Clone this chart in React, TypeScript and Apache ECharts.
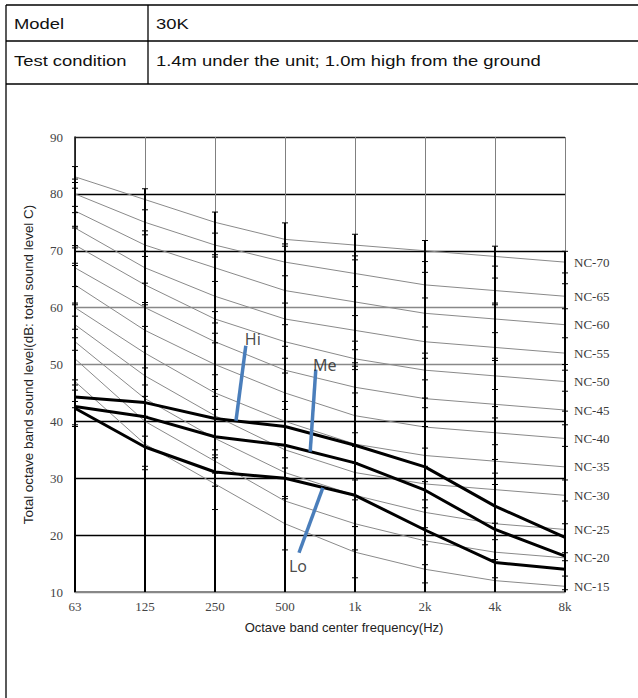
import React, { useEffect, useRef } from 'react';
import * as echarts from 'echarts';

// ---------- data ----------
const frequencies = ['63', '125', '250', '500', '1k', '2k', '4k', '8k'];

const ncNames = ['NC-15', 'NC-20', 'NC-25', 'NC-30', 'NC-35', 'NC-40', 'NC-45', 'NC-50', 'NC-55', 'NC-60', 'NC-65', 'NC-70'];
const nc15 = [47, 36, 29, 22, 17, 14, 12, 11];
const nc20 = [51, 40, 33, 26, 22, 19, 17, 16];
const nc25 = [54, 44, 37, 31, 27, 24, 22, 21];
const nc30 = [57, 48, 41, 35, 31, 29, 28, 27];
const nc35 = [60, 52, 45, 40, 36, 34, 33, 32];
const nc40 = [64, 56, 50, 45, 41, 39, 38, 37];
const nc45 = [67, 60, 54, 49, 46, 44, 43, 42];
const nc50 = [71, 64, 58, 54, 51, 49, 48, 47];
const nc55 = [74, 67, 62, 58, 56, 54, 53, 52];
const nc60 = [77, 71, 67, 63, 61, 59, 58, 57];
const nc65 = [80, 75, 71, 68, 66, 64, 63, 62];
const nc70 = [83, 79, 75, 72, 71, 70, 69, 68];
const ncCurves = [nc15, nc20, nc25, nc30, nc35, nc40, nc45, nc50, nc55, nc60, nc65, nc70];

const hiLevels = [44.3, 43.3, 40.5, 39.1, 35.8, 32.0, 25.1, 19.6];
const meLevels = [42.6, 40.8, 37.3, 35.8, 32.7, 27.9, 21.0, 16.3];
const loLevels = [42.3, 35.5, 31.1, 30.0, 27.0, 20.9, 15.2, 14.0];

// pointer lines (x in band index units, y in dB): [label end, curve end]
const hiPointer = [[2.44, 53.3], [2.3, 40.1]];
const mePointer = [[3.44, 49.1], [3.36, 34.7]];
const loPointer = [[3.2, 16.9], [3.54, 28.3]];
const pointerNames = ['Hi', 'Me', 'Lo'];

// tall black scale bars at each band
const bandTops = [84.8, 80.9, 76.8, 74.9, 72.9, 71.8, 70.8, 69.9];
const ticks63 = [84.8, 82.6, 82.0, 81.0, 77.8, 76.7, 74.3, 74.0, 70.9, 70.5, 67.8, 67.4, 63.7, 60.8, 60.5, 58.5, 56.2, 54.7, 52.5, 47.3, 46.4, 45.5, 43.5, 42.4, 39.4, 39.1];
const ticks125 = [80.9, 77.2, 73.5, 72.8, 69.9, 69.0, 64.3, 60.9, 60.5, 56.7, 53.2, 49.4, 46.4, 44.4, 40.9, 37.4, 32.1, 31.5];
const ticks250 = [76.8, 73.1, 69.3, 68.9, 64.6, 59.3, 57.3, 55.5, 53.8, 48.2, 45.6, 44.4, 42.1, 35.0, 34.1, 33.6, 30.9, 28.6, 24.5];
const ticks500 = [74.9, 71.2, 70.8, 65.6, 60.8, 57.0, 53.2, 51.1, 48.5, 43.5, 42.1, 33.6, 31.8, 26.8, 26.4, 17.4];
const ticks1k = [72.9, 69.1, 68.4, 63.7, 58.6, 54.1, 52.6, 50.3, 49.7, 49.1, 45.0, 42.6, 38.0, 35.6, 32.7, 29.7, 26.2, 21.5, 17.4, 12.5];
const ticks2k = [71.8, 68.1, 66.2, 61.7, 56.6, 52.0, 51.1, 47.3, 44.1, 42.4, 39.1, 35.3, 32.1, 29.4, 26.2, 24.8, 21.3, 18.3, 14.8, 11.6];
const ticks4k = [70.8, 67.3, 65.2, 60.8, 60.5, 55.6, 51.1, 50.7, 45.6, 42.6, 40.6, 35.9, 33.3, 30.9, 28.9, 22.1, 19.2, 15.7, 12.5];
const ticks8k = [69.9, 66.1, 64.2, 59.8, 54.7, 50.0, 49.0, 45.3, 41.8, 39.4, 35.6, 29.7, 26.0, 22.0, 16.9, 15.5, 12.8, 10.4];
const bandTicks = [ticks63, ticks125, ticks250, ticks500, ticks1k, ticks2k, ticks4k, ticks8k];

const tableRows = [
  ['Model', '30K'],
  ['Test condition', '1.4m under the unit; 1.0m high from the ground'],
];

const yAxisName = 'Total octave band sound level(dB: total sound level C)';
const xAxisName = 'Octave band center frequency(Hz)';

const SERIF = '"Liberation Serif", "DejaVu Serif", serif';
const SANS = '"Liberation Sans", Arial, sans-serif';

export default function App() {
  const ref = useRef<HTMLDivElement>(null);

  useEffect(() => {
    if (!ref.current) return;
    const chart = echarts.init(ref.current, null, { renderer: 'svg' });

    const ncSeries = ncCurves.map((vals, k) => ({
      type: 'line',
      name: ncNames[k],
      data: vals.map((v, i) => [i, v]),
      showSymbol: false,
      symbol: 'none',
      lineStyle: { color: '#8a8a8a', width: 1 },
      z: 2,
      silent: true,
      endLabel: {
        show: true,
        formatter: ncNames[k],
        distance: 9,
        color: '#3a3a3a',
        fontFamily: SERIF,
        fontSize: 13,
      },
    }));

    const mainLine = (name: string, vals: number[]) => ({
      type: 'line',
      name,
      data: vals.map((v, i) => [i, v]),
      showSymbol: false,
      symbol: 'none',
      lineStyle: { color: '#000', width: 3 },
      z: 5,
    });

    const pointerLine = (pts: number[][]) => ({
      type: 'line',
      data: pts,
      showSymbol: false,
      symbol: 'none',
      lineStyle: { color: '#4a7ebb', width: 3.5 },
      z: 6,
    });

    const labelOffsets = [[7, -7], [9, -5], [-1, 13]];
    const pointerLabels = {
      type: 'scatter',
      symbolSize: 1,
      itemStyle: { color: 'rgba(0,0,0,0)' },
      z: 7,
      data: [hiPointer[0], mePointer[0], loPointer[0]].map((p, k) => ({
        value: p,
        name: pointerNames[k],
        label: {
          show: true,
          position: 'inside',
          offset: labelOffsets[k],
          formatter: '{b}',
          color: '#1a1a1a',
          fontFamily: '"Noto Sans", "Open Sans", sans-serif',
          fontSize: 16,
        },
      })),
    };

    const bars = {
      type: 'custom',
      z: 4,
      silent: true,
      data: bandTops.map((t, i) => [i, t]),
      renderItem: (params: any, api: any) => {
        const i = api.value(0);
        const top = api.value(1);
        const b = api.coord([i, 10]);
        const t = api.coord([i, top]);
        const children: any[] = [
          { type: 'line', shape: { x1: b[0], y1: b[1], x2: t[0], y2: t[1] }, style: { stroke: '#000', lineWidth: 2 } },
        ];
        bandTicks[params.dataIndex].forEach((v) => {
          const p = api.coord([i, v]);
          children.push({
            type: 'line',
            shape: { x1: p[0] - 3, y1: p[1], x2: p[0] + 3, y2: p[1] },
            style: { stroke: '#000', lineWidth: 1 },
          });
        });
        return { type: 'group', children };
      },
    };

    const lineStyle = { stroke: '#000', lineWidth: 1.3 };
    const graphic: any[] = [
      { type: 'line', shape: { x1: 6, y1: 5, x2: 638, y2: 5 }, style: lineStyle },
      { type: 'line', shape: { x1: 6, y1: 41, x2: 638, y2: 41 }, style: lineStyle },
      { type: 'line', shape: { x1: 6, y1: 84, x2: 638, y2: 84 }, style: lineStyle },
      { type: 'line', shape: { x1: 6, y1: 5, x2: 6, y2: 698 }, style: lineStyle },
      { type: 'line', shape: { x1: 148, y1: 5, x2: 148, y2: 84 }, style: lineStyle },
    ];
    const rowCenters = [24.5, 61.5];
    tableRows.forEach((row, r) => {
      [14, 156].forEach((x, c) => {
        graphic.push({
          type: 'text',
          x,
          y: rowCenters[r],
          scaleX: 1.27,
          style: {
            text: row[c],
            fontFamily: SANS,
            fontSize: 14.5,
            fill: '#111',
            textAlign: 'left',
            textVerticalAlign: 'middle',
          },
        });
      });
    });

    chart.setOption({
      animation: false,
      backgroundColor: '#fff',
      grid: { left: 75, top: 137, width: 490, height: 455, containLabel: false },
      xAxis: {
        type: 'value',
        min: 0,
        max: 7,
        interval: 1,
        name: xAxisName,
        nameLocation: 'middle',
        nameGap: 29,
        nameTextStyle: { fontFamily: SANS, fontSize: 13, color: '#222', padding: [0, 0, 0, 48] },
        axisLine: { show: true, lineStyle: { color: '#888', width: 2 } },
        axisTick: { show: false },
        axisLabel: {
          margin: 8,
          fontFamily: SERIF,
          fontSize: 13,
          color: '#444',
          formatter: (v: number) => frequencies[Math.round(v)] ?? '',
        },
        splitLine: { show: true, lineStyle: { color: '#808080', width: 1 } },
      },
      yAxis: {
        type: 'value',
        min: 10,
        max: 90,
        interval: 10,
        name: yAxisName,
        nameLocation: 'middle',
        nameGap: 40,
        nameRotate: 90,
        nameTextStyle: { fontFamily: SANS, fontSize: 13.4, color: '#222' },
        axisLine: { show: true, lineStyle: { color: '#000', width: 1.5 } },
        axisTick: { show: false },
        axisLabel: { margin: 12, fontFamily: SERIF, fontSize: 13, color: '#444' },
        splitLine: {
          show: true,
          lineStyle: {
            color: ['#888', '#000', '#000', '#000', '#888', '#888', '#000', '#000', '#222'],
            width: 1.3,
          },
        },
      },
      graphic,
      series: [
        ...ncSeries,
        bars,
        mainLine('Hi', hiLevels),
        mainLine('Me', meLevels),
        mainLine('Lo', loLevels),
        pointerLine(hiPointer),
        pointerLine(mePointer),
        pointerLine(loPointer),
        pointerLabels,
      ],
    });

    return () => chart.dispose();
  }, []);

  return (
    <div
      ref={ref}
      style={{ position: 'absolute', left: 0, top: 0, width: 638, height: 698, background: '#fff' }}
    />
  );
}
